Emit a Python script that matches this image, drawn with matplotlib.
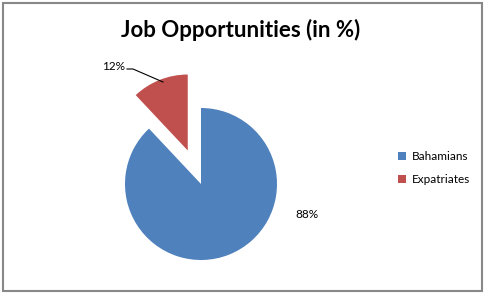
import matplotlib
matplotlib.use("Agg")
import matplotlib.pyplot as plt
from matplotlib.patches import Rectangle

title = "Job Opportunities (in %)"
categories = ["Bahamians", "Expatriates"]
values = [88, 12]
colors = ["#4F81BD", "#C0504D"]

W, H = 486, 294
fig = plt.figure(figsize=(W / 100, H / 100), dpi=100)
ax = fig.add_axes([0, 0, 1, 1])

# chart border
fig.patches.append(Rectangle((3 / W, 3 / H), 479 / W, 288 / H, transform=fig.transFigure,
                             fill=False, edgecolor="#888888", linewidth=1.5))

R = 76
center = (201, H - 184)
wedges, _ = ax.pie(values, colors=colors, startangle=90, counterclock=False,
                   radius=R, center=center, explode=[0, 36],
                   wedgeprops=dict(linewidth=0), frame=True)
ax.set_xlim(0, W)
ax.set_ylim(0, H)
ax.set_aspect("equal")
ax.axis("off")

font = "Lato"
ax.text(241, H - 30, title, ha="center", va="center", fontsize=16,
        fontweight="bold", family=font)

lab = [f"{v}%" for v in values]
ax.text(295, H - 214, lab[0], ha="left", va="center", fontsize=8.5, family=font)
ax.text(125, H - 66, lab[1], ha="right", va="center", fontsize=8.5, family=font)
ax.plot([127, 133, 163], [H - 69, H - 69, H - 82], color="black", lw=0.8)

leg = fig.legend(wedges, categories, loc="center left", bbox_to_anchor=(392 / W, (H - 168) / H),
                 frameon=False, prop=dict(family=font, size=8.5), handlelength=0.7,
                 handleheight=0.7, handletextpad=0.5, labelspacing=1.0, borderpad=0)

fig.savefig("out.png", dpi=100, facecolor="white")
